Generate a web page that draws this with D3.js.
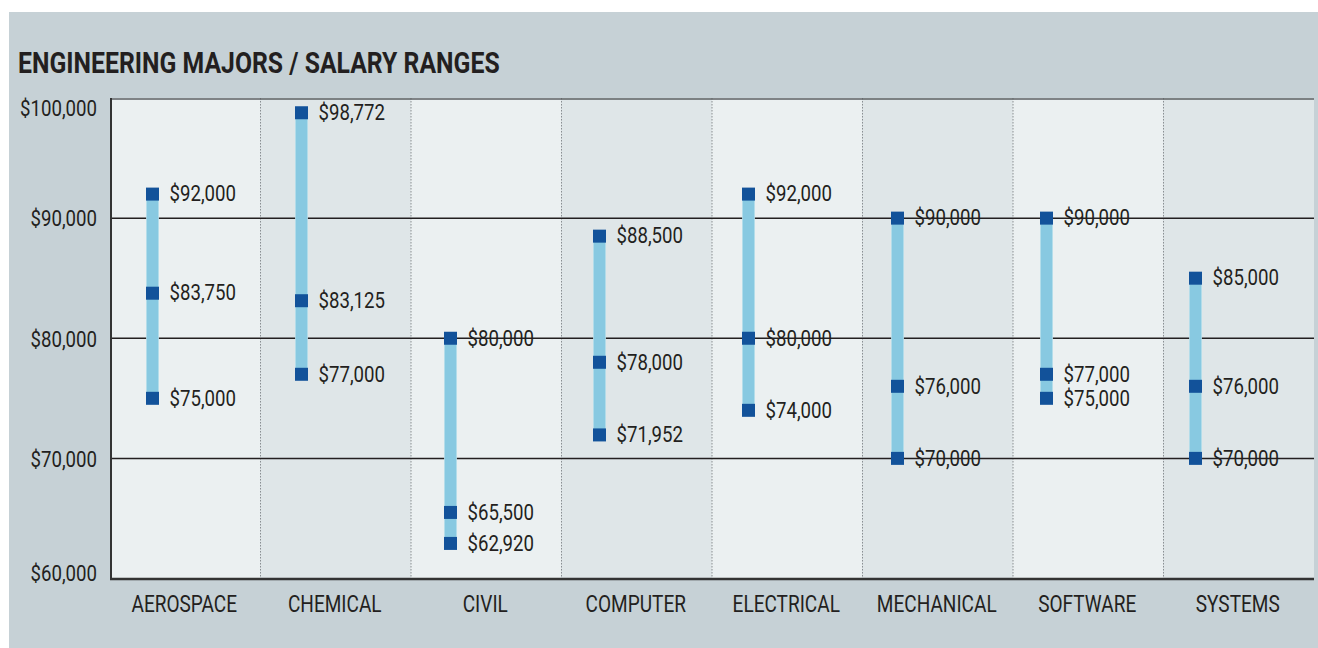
<!DOCTYPE html>
<html>
<head>
<meta charset="utf-8">
<script src="https://cdn.jsdelivr.net/npm/d3@7"></script>
<style>
  body { margin: 0; background: #fff; }
  text { font-family: Roboto, "Noto Sans", sans-serif; fill: #231f20; }
</style>
</head>
<body>
<div id="chart"></div>
<script>
// salary ranges per major
const majors = ["AEROSPACE", "CHEMICAL", "CIVIL", "COMPUTER", "ELECTRICAL", "MECHANICAL", "SOFTWARE", "SYSTEMS"];
const lowSalary = [75000, 77000, 62920, 71952, 74000, 70000, 75000, 70000];
const midSalary = [83750, 83125, 65500, 78000, 80000, 76000, 77000, 76000];
const highSalary = [92000, 98772, 80000, 88500, 92000, 90000, 90000, 85000];
const yTicks = [60000, 70000, 80000, 90000, 100000];
const title = "ENGINEERING MAJORS / SALARY RANGES";

const width = 1318;
const height = 648;
const marginLeft = 110;
const marginRight = 4;
const marginTop = 98;
const marginBottom = 69;
const squeeze = 0.81; // fake a condensed face

const svg = d3.select("#chart").append("svg")
  .attr("width", width)
  .attr("height", height);

// gray panel
svg.append("rect")
  .attr("x", 9).attr("y", 12)
  .attr("width", width - 9).attr("height", height - 12)
  .attr("fill", "#c6d1d6");

const x = d3.scaleBand(majors, [marginLeft, width - marginRight]);
// the bars sit a little left of each column's centre
const xBar = d3.scalePoint(majors, [marginLeft + 42.5, width - marginRight - 118.5]);
const y = d3.scaleLinear([60000, 100000], [height - marginBottom - 0.5, marginTop]);

// alternating column backgrounds
svg.append("g")
  .selectAll("rect")
  .data(majors)
  .join("rect")
  .attr("x", d => x(d))
  .attr("y", marginTop)
  .attr("width", x.bandwidth())
  .attr("height", y(60000) - marginTop)
  .attr("fill", (d, i) => i % 2 ? "#dfe6e8" : "#ebf0f1");

// dotted separators
svg.append("g")
  .attr("stroke", "#8a8f92")
  .attr("stroke-width", 1)
  .attr("stroke-dasharray", "1.5,1.5")
  .selectAll("line")
  .data(majors.slice(1))
  .join("line")
  .attr("x1", d => x(d)).attr("x2", d => x(d))
  .attr("y1", marginTop).attr("y2", y(60000));

// grid lines
svg.append("g")
  .selectAll("line")
  .data(yTicks.slice(1, -1))
  .join("line")
  .attr("x1", marginLeft).attr("x2", width - marginRight)
  .attr("y1", d => y(d)).attr("y2", d => y(d))
  .attr("stroke", "#231f20")
  .attr("stroke-width", 1.5);

svg.append("line")
  .attr("x1", marginLeft).attr("x2", width - marginRight)
  .attr("y1", y(100000) + 1).attr("y2", y(100000) + 1)
  .attr("stroke", "#5b5f62").attr("stroke-width", 1.5);

svg.append("line")
  .attr("x1", marginLeft).attr("x2", width - marginRight)
  .attr("y1", y(60000) + 0.5).attr("y2", y(60000) + 0.5)
  .attr("stroke", "#333").attr("stroke-width", 2.5);

svg.append("line")
  .attr("x1", marginLeft + 1).attr("x2", marginLeft + 1)
  .attr("y1", marginTop).attr("y2", y(60000) + 1.5)
  .attr("stroke", "#333").attr("stroke-width", 2);

// helper for squeezed text
function squeezedText(g, tx, ty, size, anchor, weight) {
  return g.append("text")
    .attr("transform", `translate(${tx},${ty}) scale(${squeeze},1)`)
    .attr("font-size", size)
    .attr("font-weight", weight || 400)
    .attr("text-anchor", anchor)
    .attr("dy", "0.36em");
}

// y tick labels, top and bottom kept inside the axis
const yLabels = svg.append("g");
yTicks.forEach(v => {
  const ty = Math.min(Math.max(y(v), marginTop + 10), y(60000) - 6);
  squeezedText(yLabels, marginLeft - 13, ty, 23, "end")
    .text(d3.format("$,")(v));
});

// x labels
const xLabels = svg.append("g");
majors.forEach(m => {
  xLabels.append("text")
    .attr("transform", `translate(${x(m) + x.bandwidth() / 2 - 1},${y(60000) + 33}) scale(${squeeze},1)`)
    .attr("font-size", 23.5)
    .attr("text-anchor", "middle")
    .text(m);
});

// title
svg.append("text")
  .attr("transform", `translate(18,73) scale(0.84,1)`)
  .attr("font-size", 29.5)
  .attr("font-weight", 700)
  .text(title);

// range bars
const barW = 12;
const markW = 13;
svg.append("g")
  .selectAll("rect")
  .data(majors)
  .join("rect")
  .attr("x", d => xBar(d) - barW / 2)
  .attr("width", barW)
  .attr("y", (d, i) => y(highSalary[i]))
  .attr("height", (d, i) => y(lowSalary[i]) - y(highSalary[i]))
  .attr("fill", "#88c9e1")
  .attr("stroke", "#b3dcea")
  .attr("stroke-width", 0.8);

// markers and value labels
const points = majors.flatMap((m, i) => [
  { major: m, value: highSalary[i] },
  { major: m, value: midSalary[i] },
  { major: m, value: lowSalary[i] }
]);

svg.append("g")
  .selectAll("rect")
  .data(points)
  .join("rect")
  .attr("x", d => xBar(d.major) - markW / 2)
  .attr("y", d => y(d.value) - markW / 2)
  .attr("width", markW)
  .attr("height", markW)
  .attr("fill", "#12529a");

const valueLabels = svg.append("g");
points.forEach(d => {
  squeezedText(valueLabels, xBar(d.major) + 17, y(d.value) - 1, 23, "start")
    .text(d3.format("$,")(d.value));
});
</script>
</body>
</html>
